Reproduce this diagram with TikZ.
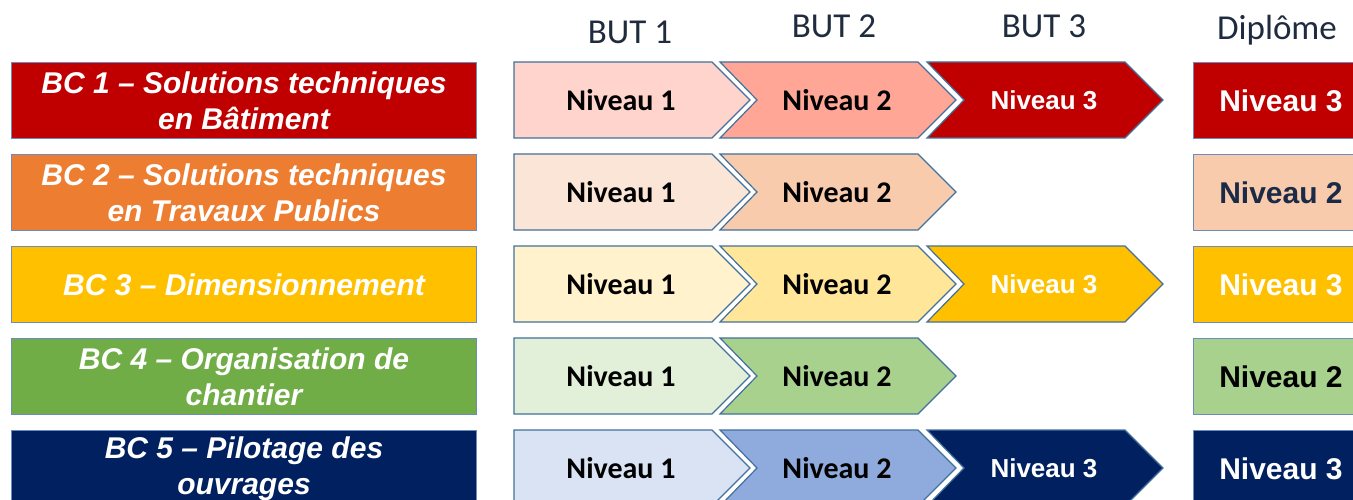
\documentclass[tikz,border=0pt]{standalone}
\usepackage{fontspec}
\setmainfont{Liberation Sans}
\newfontfamily\calib{Carlito}
\newfontfamily\arialf{Liberation Sans}
\definecolor{outl}{HTML}{41719C}
\definecolor{boxl}{HTML}{6C8CC0}
\definecolor{headc}{HTML}{1F2B3E}
\definecolor{rA}{HTML}{C00000}\definecolor{rA1}{HTML}{FFD4CD}\definecolor{rA2}{HTML}{FFA697}
\definecolor{rB}{HTML}{ED7D31}\definecolor{rB1}{HTML}{FBE5D6}\definecolor{rB2}{HTML}{F8CBAD}
\definecolor{rC}{HTML}{FFC000}\definecolor{rC1}{HTML}{FFF2CC}\definecolor{rC2}{HTML}{FFE699}
\definecolor{rD}{HTML}{70AD47}\definecolor{rD1}{HTML}{E2F0D9}\definecolor{rD2}{HTML}{A9D18E}
\definecolor{rE}{HTML}{002060}\definecolor{rE1}{HTML}{DAE3F3}\definecolor{rE2}{HTML}{8FAADC}
\definecolor{navyt}{HTML}{1A2A47}
\tikzset{
  chevline/.style={draw=outl, line width=1.2pt, line join=miter},
  lbl/.style={draw=boxl, line width=1pt, anchor=north west, minimum width=465pt, minimum height=76pt,
    inner sep=0pt, align=center, text=white, font=\arialf\bfseries\itshape\fontsize{30}{36}\selectfont},
  dip/.style={draw=boxl, line width=1pt, anchor=north west, minimum width=175pt, minimum height=76pt,
    inner sep=0pt, font=\arialf\bfseries\fontsize{30}{36}\selectfont},
  lvdark/.style={inner sep=0pt, text=black, font=\calib\bfseries\fontsize{30}{36}\selectfont},
  lvwhite/.style={inner sep=0pt, text=white, font=\arialf\bfseries\fontsize{26}{30}\selectfont},
  head/.style={inner sep=0pt, anchor=base, text=headc, font=\calib\fontsize{35}{42}\selectfont},
}
% #1 name, #2 left, #3 top, #4 fill, #5 text style, #6 text
\newcommand\chevflat[6]{%
  \draw[chevline, fill=#4] (#2,#3) -- ++(198,0) -- ++(38,38) -- ++(-38,38) -- ++(-198,0) -- cycle;
  \node[#5] (#1) at (#2+107,#3+38) {#6};}
\newcommand\chevnotch[6]{%
  \draw[chevline, fill=#4] (#2,#3) -- ++(198,0) -- ++(38,38) -- ++(-38,38) -- ++(-198,0) -- ++(37,-38) -- cycle;
  \node[#5] (#1) at (#2+117,#3+38) {#6};}
\begin{document}
\begin{tikzpicture}[x=1pt,y=-1pt]
\useasboundingbox (0,0) rectangle (1353,500);
\clip (0,0) rectangle (1353,500);
\fill[white] (0,0) rectangle (1353,500);
% headers
\node[head] (h1) at (630,44) {BUT 1};
\node[head] (h2) at (834,38) {BUT 2};
\node[head] (h3) at (1044,38) {BUT 3};
\node[head] (h4) at (1277,40) {Diplôme};
% row 1
\node[lbl, fill=rA] (b1) at (11,62) {BC 1 – Solutions techniques\\en Bâtiment};
\chevflat{r1a}{514}{62}{rA1}{lvdark}{Niveau 1}
\chevnotch{r1b}{720}{62}{rA2}{lvdark}{Niveau 2}
\chevnotch{r1c}{927}{62}{rA}{lvwhite}{Niveau 3}
\node[dip, fill=rA, text=white] (d1) at (1193,62) {Niveau 3};
% row 2
\node[lbl, fill=rB] (b2) at (11,154) {BC 2 – Solutions techniques\\en Travaux Publics};
\chevflat{r2a}{514}{154}{rB1}{lvdark}{Niveau 1}
\chevnotch{r2b}{720}{154}{rB2}{lvdark}{Niveau 2}
\node[dip, fill=rB2, text=navyt] (d2) at (1193,154) {Niveau 2};
% row 3
\node[lbl, fill=rC] (b3) at (11,246) {BC 3 – Dimensionnement};
\chevflat{r3a}{514}{246}{rC1}{lvdark}{Niveau 1}
\chevnotch{r3b}{720}{246}{rC2}{lvdark}{Niveau 2}
\chevnotch{r3c}{927}{246}{rC}{lvwhite}{Niveau 3}
\node[dip, fill=rC, text=white] (d3) at (1193,246) {Niveau 3};
% row 4
\node[lbl, fill=rD] (b4) at (11,338) {BC 4 – Organisation de\\chantier};
\chevflat{r4a}{514}{338}{rD1}{lvdark}{Niveau 1}
\chevnotch{r4b}{720}{338}{rD2}{lvdark}{Niveau 2}
\node[dip, fill=rD2, text=black] (d4) at (1193,338) {Niveau 2};
% row 5
\node[lbl, fill=rE] (b5) at (11,430) {BC 5 – Pilotage des\\ouvrages};
\chevflat{r5a}{514}{430}{rE1}{lvdark}{Niveau 1}
\chevnotch{r5b}{720}{430}{rE2}{lvdark}{Niveau 2}
\chevnotch{r5c}{927}{430}{rE}{lvwhite}{Niveau 3}
\node[dip, fill=rE, text=white] (d5) at (1193,430) {Niveau 3};
\end{tikzpicture}
\end{document}
